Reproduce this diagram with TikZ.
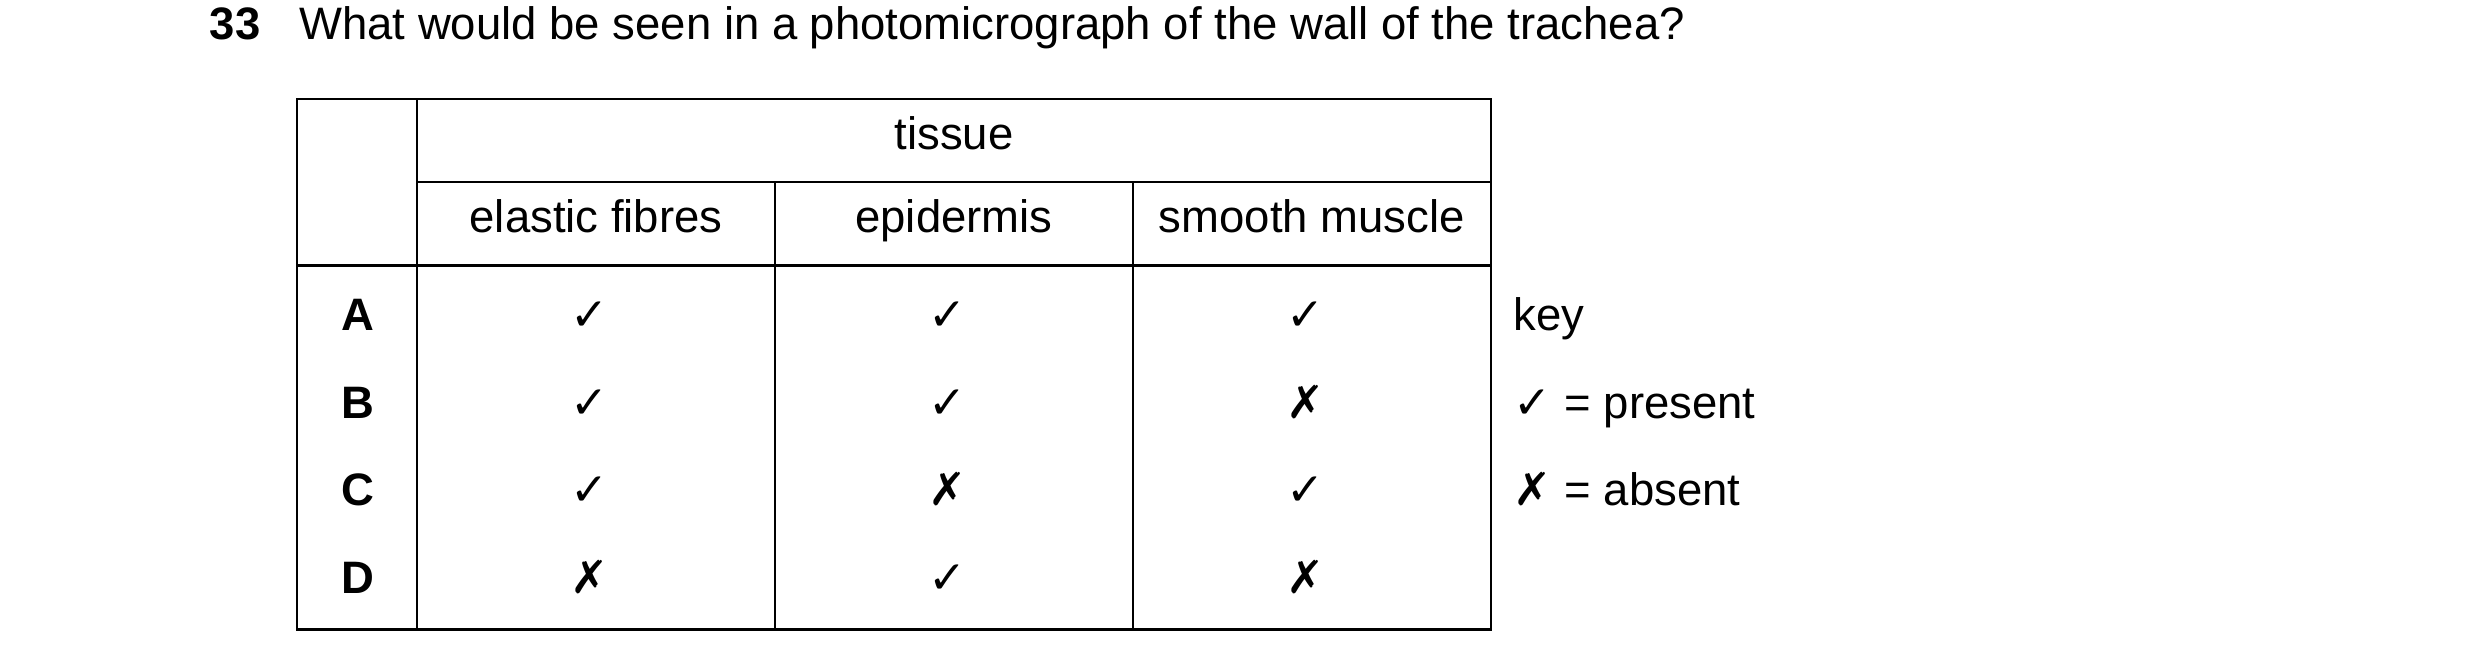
\documentclass[tikz,border=0pt]{standalone}
\usepackage{fontspec}
\setmainfont{Liberation Sans}
\newfontfamily\symfont{DejaVu Sans}
\newcommand{\yes}{{\symfont ✓}}
\newcommand{\no}{{\symfont ✗}}
\tikzset{txt/.style={inner sep=0pt, font=\fontsize{16.2}{19}\selectfont},
  cell/.style={txt, anchor=mid}, lbl/.style={txt, font=\fontsize{16.2}{19}\selectfont\bfseries}}
\begin{document}
\begin{tikzpicture}[x=0.02cm,y=-0.02cm]
\useasboundingbox (0,0) rectangle (1552,415);
% question
\node[lbl, anchor=base west] (num) at (131,25) {33};
\node[txt, anchor=base west] (question) at (187,25) {What would be seen in a photomicrograph of the wall of the trachea?};
% table frame
\draw[line width=0.9pt] (186,62) rectangle (933,394);
\draw[line width=0.9pt] (261,62) -- (261,394);
\draw[line width=0.9pt] (261,114) -- (933,114);
\draw[line width=0.9pt] (186,166) -- (933,166);
\draw[line width=0.9pt] (485,114) -- (485,394);
\draw[line width=0.9pt] (709,114) -- (709,394);
% headers
\node[cell] (tissue) at (597,89) {tissue};
\node[cell] (elastic) at (373,141) {elastic fibres};
\node[cell] (epidermis) at (597,141) {epidermis};
\node[cell] (muscle) at (821,141) {smooth muscle};
% rows
\foreach \r/\y/\a/\b/\c in {A/202/\yes/\yes/\yes, B/257/\yes/\yes/\no,
                              C/312/\yes/\no/\yes, D/367/\no/\yes/\no}{
  \node[lbl, anchor=mid] (row\r) at (224,\y) {\r};
  \node[cell] (el\r) at (369,\y) {\a};
  \node[cell] (ep\r) at (593,\y) {\b};
  \node[cell] (sm\r) at (817,\y) {\c};
}
% key
\node[txt, anchor=mid west] (key) at (947,202) {key};
\node[txt, anchor=mid west] (present) at (947,257) {\yes{} = present};
\node[txt, anchor=mid west] (absent) at (947,312) {\no{} = absent};
\end{tikzpicture}
\end{document}
